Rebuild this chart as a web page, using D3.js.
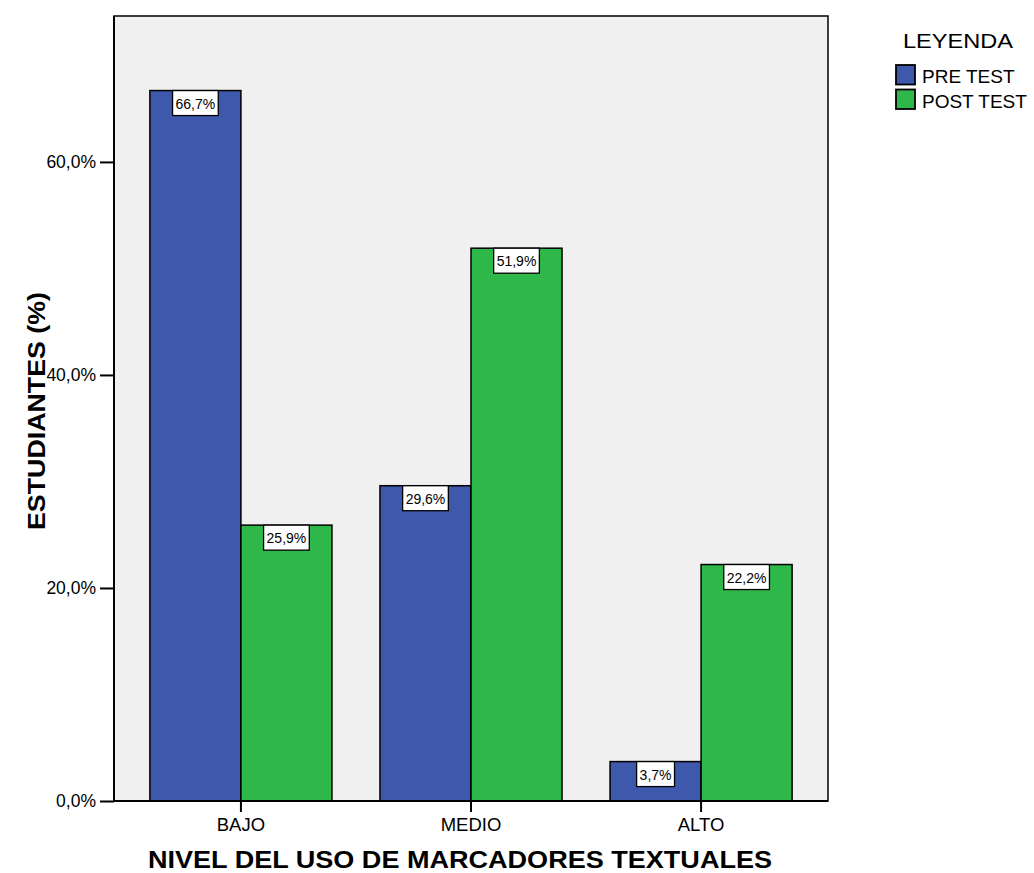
<!DOCTYPE html>
<html><head><meta charset="utf-8">
<script src="https://cdn.jsdelivr.net/npm/d3@7"></script>
<style>body{margin:0;background:#fff}svg{display:block;font-family:"Liberation Sans",Arial,sans-serif}</style>
</head><body>
<script>
const categories = ["BAJO", "MEDIO", "ALTO"];
const seriesNames = ["PRE TEST", "POST TEST"];
const preTest = [66.7, 29.6, 3.7];
const postTest = [25.9, 51.9, 22.2];
const yTicks = [0, 20, 40, 60];
const colors = ["#3e58ac", "#2fb84a"];

const W = 1034, H = 873;
const m = {l: 114, t: 16, r: 828, b: 801};
const svg = d3.select("body").append("svg").attr("width", W).attr("height", H);

const x0 = d3.scaleBand().domain(categories).range([m.l, m.r]).paddingInner(0.2087).paddingOuter(0.156);
const x1 = d3.scaleBand().domain(seriesNames).range([0, x0.bandwidth()]);
const y = d3.scaleLinear().domain([0, 73.7]).range([m.b, m.t]);

svg.append("rect").attr("x", m.l).attr("y", m.t).attr("width", m.r - m.l).attr("height", m.b - m.t)
  .attr("fill", "#f0f0f0").attr("stroke", "#000").attr("stroke-width", 1.5);

const data = categories.map((c, i) => ({c, vals: [preTest[i], postTest[i]]}));
const g = svg.selectAll("g.cat").data(data).join("g").attr("class", "cat")
  .attr("transform", d => `translate(${x0(d.c)},0)`);
const bars = g.selectAll("g.bar").data(d => d.vals.map((v, j) => ({v, s: seriesNames[j], j}))).join("g").attr("class", "bar");
bars.append("rect")
  .attr("x", d => x1(d.s)).attr("y", d => y(d.v))
  .attr("width", x1.bandwidth()).attr("height", d => y(0) - y(d.v))
  .attr("fill", d => colors[d.j]).attr("stroke", "#000").attr("stroke-width", 1.5);
const fmt = v => v.toFixed(1).replace(".", ",") + "%";
bars.each(function(d) {
  const gg = d3.select(this);
  const cx = x1(d.s) + x1.bandwidth() / 2;
  const t = gg.append("text").attr("x", cx).attr("y", y(d.v) + 18).attr("text-anchor", "middle")
    .attr("font-size", 14).attr("fill", "#000").text(fmt(d.v));
  const bb = t.node().getBBox();
  gg.insert("rect", "text").attr("x", bb.x - 3).attr("y", y(d.v)).attr("width", bb.width + 6).attr("height", 25)
    .attr("fill", "#fff").attr("stroke", "#000").attr("stroke-width", 1.3);
});

// y axis
const ya = svg.append("g").attr("transform", `translate(${m.l},0)`)
  .call(d3.axisLeft(y).tickValues(yTicks).tickSize(14).tickFormat(v => v.toFixed(1).replace(".", ",") + "%"));
ya.select(".domain").remove();
ya.selectAll("line").attr("stroke", "#000").attr("stroke-width", 2);
ya.selectAll("text").attr("font-size", 17.5).attr("fill", "#000").attr("x", -18).attr("font-family", "Liberation Sans, Arial, sans-serif");

// x axis
const xa = svg.append("g").attr("transform", `translate(0,${m.b})`)
  .call(d3.axisBottom(x0).tickSize(11).tickPadding(6));
xa.select(".domain").remove();
xa.selectAll("line").attr("stroke", "#000").attr("stroke-width", 2);
xa.selectAll("text").attr("font-size", 18.5).attr("fill", "#000").attr("font-family", "Liberation Sans, Arial, sans-serif");

svg.append("line").attr("x1", m.l).attr("x2", m.r).attr("y1", m.b).attr("y2", m.b).attr("stroke", "#000").attr("stroke-width", 2);
svg.append("line").attr("x1", m.l).attr("x2", m.l).attr("y1", m.t).attr("y2", m.b).attr("stroke", "#000").attr("stroke-width", 2);

svg.append("text").attr("x", 460).attr("y", 868).attr("text-anchor", "middle")
  .attr("font-size", 24).attr("font-weight", "bold")
  .attr("textLength", 624).attr("lengthAdjust", "spacingAndGlyphs")
  .text("NIVEL DEL USO DE MARCADORES TEXTUALES");
svg.append("text").attr("transform", "translate(45,411) rotate(-90)").attr("text-anchor", "middle")
  .attr("font-size", 24).attr("font-weight", "bold")
  .attr("textLength", 238).attr("lengthAdjust", "spacingAndGlyphs")
  .text("ESTUDIANTES (%)");

// legend
const lg = svg.append("g");
lg.append("text").attr("x", 958).attr("y", 48).attr("text-anchor", "middle").attr("font-size", 21)
  .attr("textLength", 110).attr("lengthAdjust", "spacingAndGlyphs").text("LEYENDA");
seriesNames.forEach((s, i) => {
  lg.append("rect").attr("x", 896).attr("y", 65 + i * 24.5).attr("width", 19).attr("height", 19.5)
    .attr("fill", colors[i]).attr("stroke", "#000").attr("stroke-width", 1.8);
  lg.append("text").attr("x", 922).attr("y", 83 + i * 24.5).attr("font-size", 19).text(s);
});
</script>
</body></html>
